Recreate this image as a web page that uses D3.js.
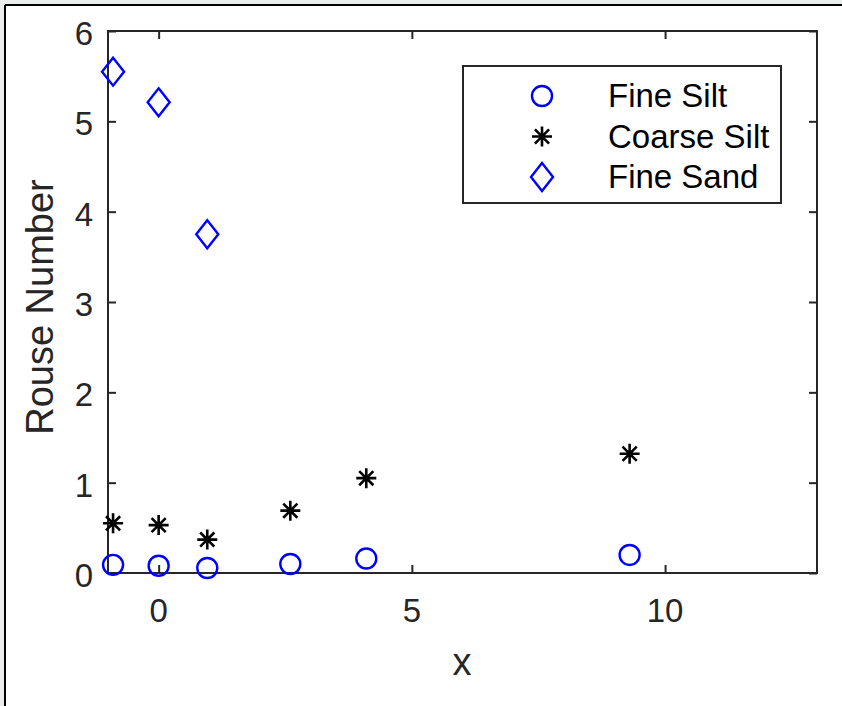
<!DOCTYPE html>
<html>
<head>
<meta charset="utf-8">
<script src="https://cdn.jsdelivr.net/npm/d3@7"></script>
<style>
  body { margin: 0; background: #ebeded; }
  svg { display: block; }
  text { font-family: "Liberation Sans", Arial, sans-serif; }
</style>
</head>
<body>
<svg id="chart" width="842" height="706"></svg>
<script>
// data
var xVals = [-0.9, 0, 0.96, 2.6, 4.1, 9.3];
var fineSilt = [0.09, 0.08, 0.055, 0.10, 0.16, 0.2];
var coarseSilt = [0.55, 0.53, 0.37, 0.69, 1.05, 1.32];
var sandX = [-0.9, 0, 0.96];
var fineSand = [5.55, 5.21, 3.75];
var xTicks = [0, 5, 10];
var yTicks = [0, 1, 2, 3, 4, 5, 6];
var legendNames = ["Fine Silt", "Coarse Silt", "Fine Sand"];

function drawChart() {
    var svg = d3.select("#chart");
    var left = 108, right = 817, top = 31, bottom = 573;
    var axisCol = "#262626";

    // page frame
    svg.append("rect").attr("x", 5).attr("y", 5).attr("width", 842).attr("height", 706)
        .attr("fill", "white");
    svg.append("line").attr("x1", 5).attr("x2", 842).attr("y1", 5).attr("y2", 5)
        .attr("stroke", "black").attr("stroke-width", 2);
    svg.append("line").attr("x1", 5).attr("x2", 5).attr("y1", 5).attr("y2", 706)
        .attr("stroke", "black").attr("stroke-width", 2);

    var x = d3.scaleLinear().domain([-1, 13]).range([left, right]);
    var y = d3.scaleLinear().domain([0, 6]).range([bottom, top]);

    // axes, ticks pointing inward on all four sides
    var g = svg.append("g");
    var tl = 8;
    g.append("g").attr("transform", "translate(0," + bottom + ")")
        .call(d3.axisTop(x).tickValues(xTicks).tickSize(tl).tickFormat(""));
    g.append("g").attr("transform", "translate(0," + top + ")")
        .call(d3.axisBottom(x).tickValues(xTicks).tickSize(tl).tickFormat(""));
    g.append("g").attr("transform", "translate(" + left + ",0)")
        .call(d3.axisRight(y).tickValues(yTicks).tickSize(tl).tickFormat(""));
    g.append("g").attr("transform", "translate(" + right + ",0)")
        .call(d3.axisLeft(y).tickValues(yTicks).tickSize(tl).tickFormat(""));
    g.selectAll(".domain").remove();
    g.selectAll("line").attr("stroke", axisCol).attr("stroke-width", 2);
    g.append("rect").attr("x", left).attr("y", top)
        .attr("width", right - left).attr("height", bottom - top)
        .attr("fill", "none").attr("stroke", axisCol).attr("stroke-width", 2);

    // tick labels
    svg.append("g").selectAll("text").data(xTicks).enter().append("text")
        .attr("x", function(d) { return x(d); })
        .attr("y", 622)
        .attr("text-anchor", "middle")
        .attr("font-size", 33).attr("fill", axisCol)
        .text(function(d) { return d; });
    svg.append("g").selectAll("text").data(yTicks).enter().append("text")
        .attr("x", 93)
        .attr("y", function(d) { return y(d) + 14; })
        .attr("text-anchor", "end")
        .attr("font-size", 33).attr("fill", axisCol)
        .text(function(d) { return d; });

    // axis titles
    svg.append("text").attr("x", 462).attr("y", 675)
        .attr("text-anchor", "middle").attr("font-size", 38).attr("fill", axisCol)
        .text("x");
    svg.append("text")
        .attr("transform", "translate(53,307) rotate(-90)")
        .attr("text-anchor", "middle").attr("font-size", 38).attr("fill", axisCol)
        .text("Rouse Number");

    // marker shapes
    function circlePath(r) {
        return "M" + r + ",0A" + r + "," + r + " 0 1,1 " + (-r) + ",0A" + r + "," + r + " 0 1,1 " + r + ",0Z";
    }
    function diamondPath(w, h) {
        return "M0," + (-h) + "L" + w + ",0L0," + h + "L" + (-w) + ",0Z";
    }
    function starPath(s) {
        var d = s * Math.SQRT1_2;
        return "M" + (-s) + ",0L" + s + ",0M0," + (-s) + "L0," + s +
            "M" + (-d) + "," + (-d) + "L" + d + "," + d +
            "M" + (-d) + "," + d + "L" + d + "," + (-d);
    }
    var shapes = [
        { path: circlePath(10), stroke: "#0000ff", width: 2.4 },
        { path: starPath(10), stroke: "#000000", width: 2.6 },
        { path: diamondPath(11, 14), stroke: "#0000ff", width: 2.4 }
    ];

    var series = [
        { xs: xVals, ys: fineSilt, shape: shapes[0] },
        { xs: xVals, ys: coarseSilt, shape: shapes[1] },
        { xs: sandX, ys: fineSand, shape: shapes[2] }
    ];

    series.forEach(function(s) {
        svg.append("g").selectAll("path")
            .data(s.ys)
            .enter()
            .append("path")
            .attr("d", s.shape.path)
            .attr("fill", "none")
            .attr("stroke", s.shape.stroke)
            .attr("stroke-width", s.shape.width)
            .attr("transform", function(d, i) {
                return "translate(" + x(s.xs[i]) + "," + y(d) + ")";
            });
    });

    // legend
    var lg = svg.append("g");
    lg.append("rect").attr("x", 463).attr("y", 66).attr("width", 318).attr("height", 137)
        .attr("fill", "white").attr("stroke", axisCol).attr("stroke-width", 2);
    var rows = lg.selectAll("g.row").data(legendNames).enter().append("g")
        .attr("class", "row")
        .attr("transform", function(d, i) { return "translate(0," + (96 + i * 40.5) + ")"; });
    rows.append("path")
        .attr("d", function(d, i) { return shapes[i].path; })
        .attr("transform", "translate(542,0)")
        .attr("fill", "none")
        .attr("stroke", function(d, i) { return shapes[i].stroke; })
        .attr("stroke-width", function(d, i) { return shapes[i].width; });
    rows.append("text")
        .attr("x", 608).attr("y", 11)
        .attr("font-size", 33).attr("fill", "black")
        .text(function(d) { return d; });
}

drawChart();
</script>
</body>
</html>
